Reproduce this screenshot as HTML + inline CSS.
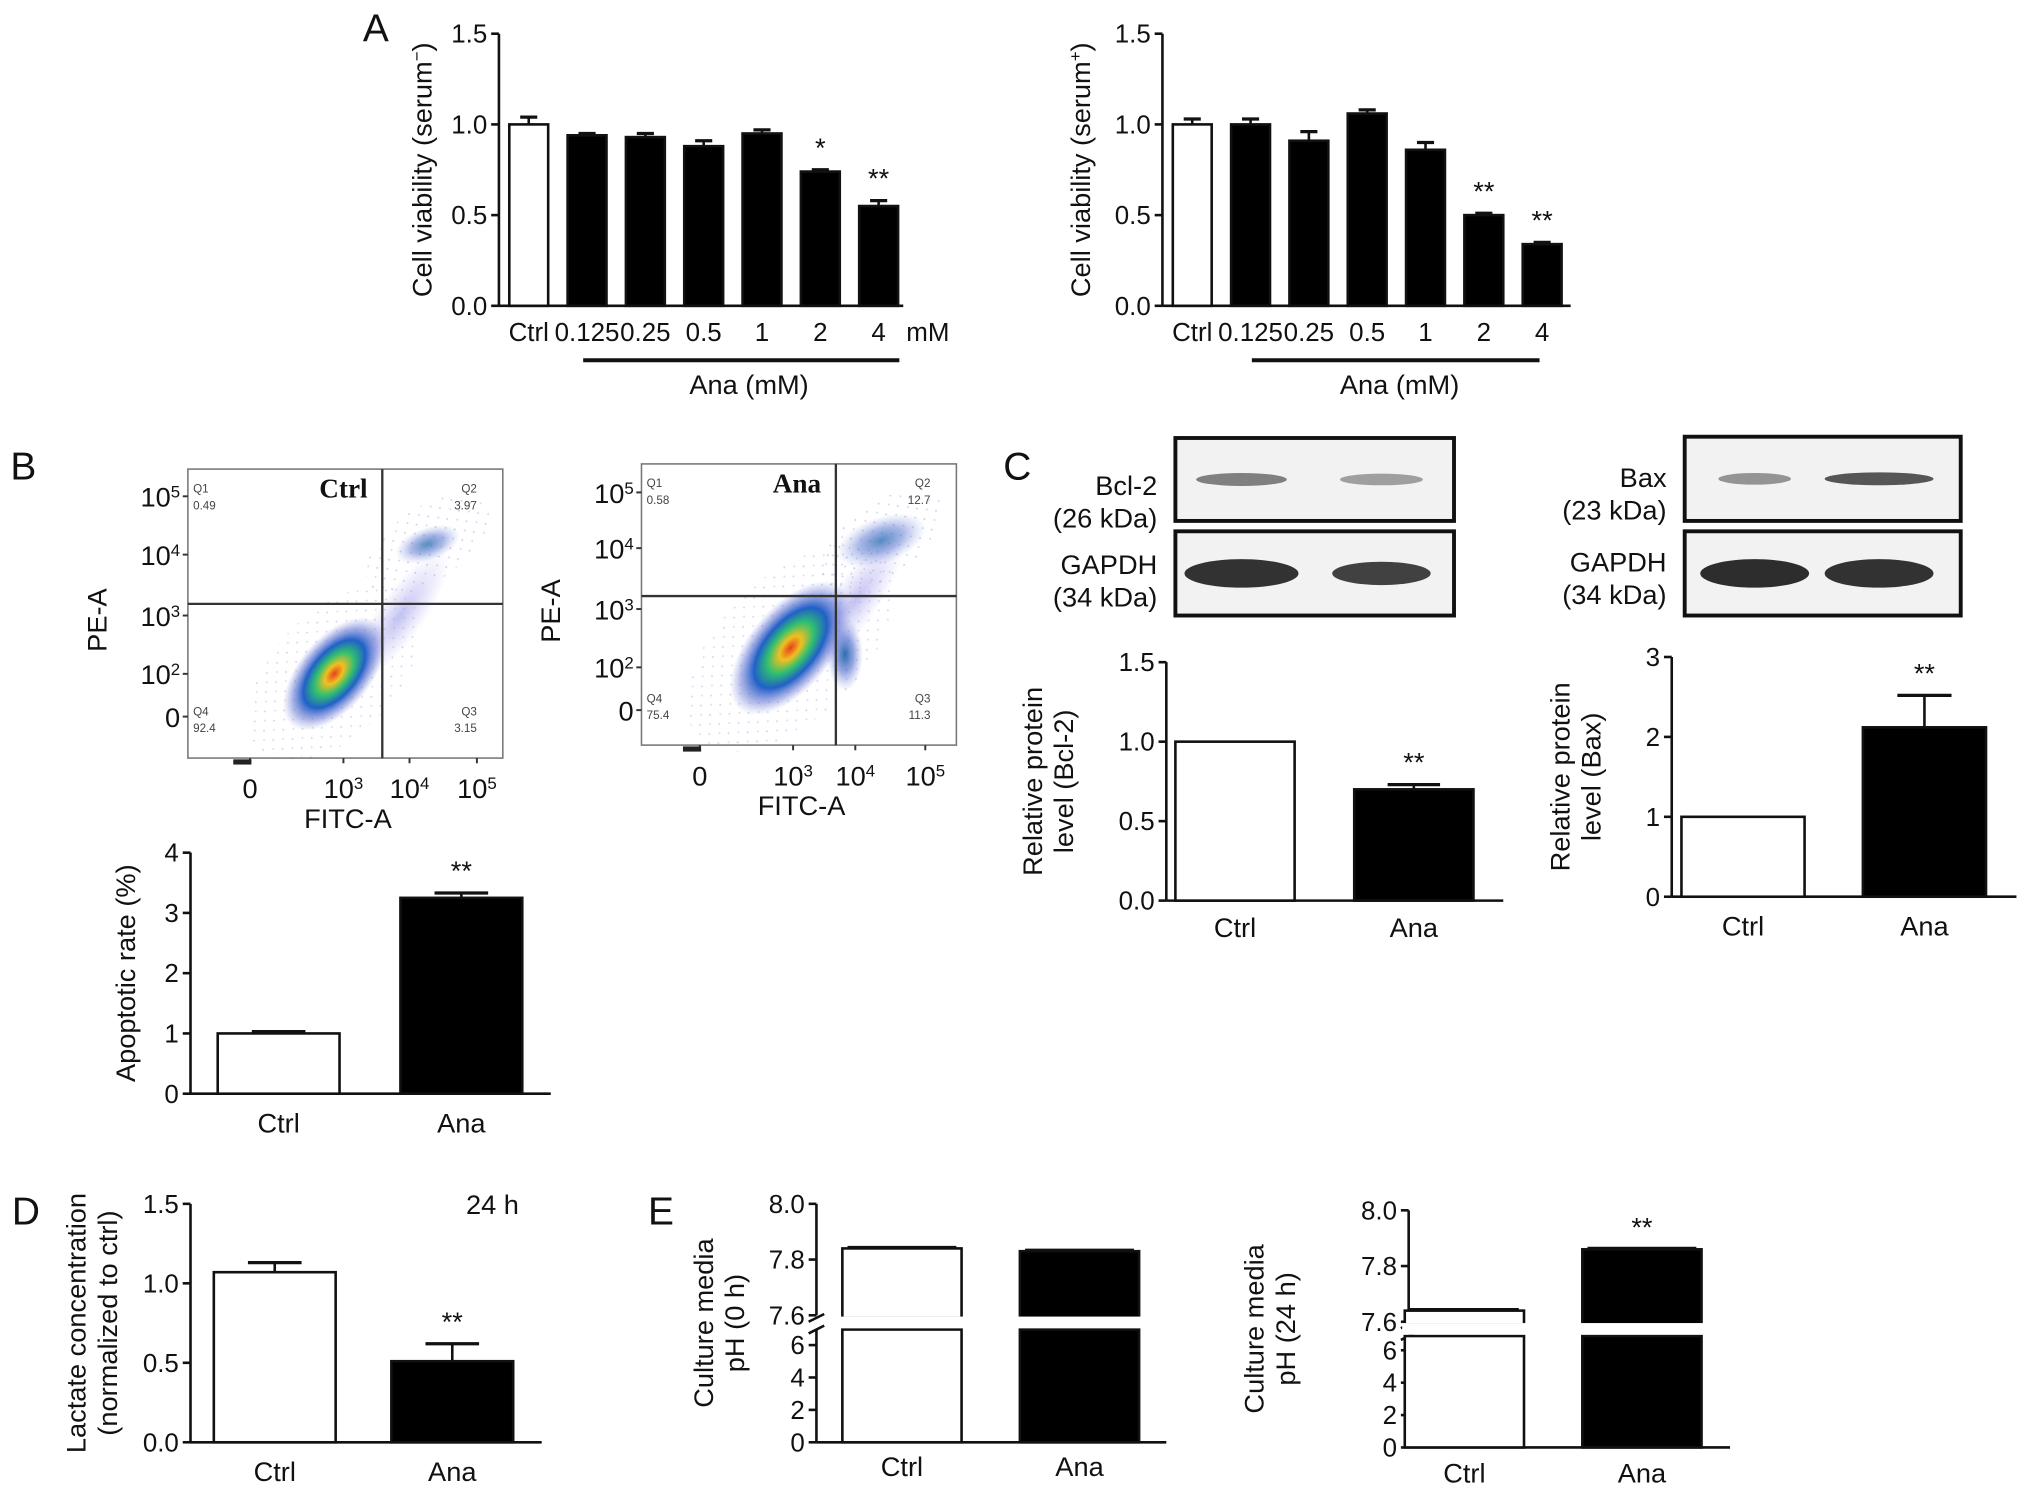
<!DOCTYPE html>
<html><head><meta charset="utf-8"><style>
html,body{margin:0;padding:0;background:#fff;}
svg{display:block;font-family:"Liberation Sans",Arial,sans-serif;}
</style></head><body>
<svg id="fig" width="2032" height="1498" viewBox="0 0 1568 1156" preserveAspectRatio="none" xmlns="http://www.w3.org/2000/svg">
<defs>
<radialGradient id="blobA" cx="50%" cy="50%" r="50%">
<stop offset="0" stop-color="#e8401c"/><stop offset="0.18" stop-color="#f0c020"/><stop offset="0.38" stop-color="#30c070"/><stop offset="0.6" stop-color="#2060c8"/><stop offset="0.82" stop-color="#6070d0" stop-opacity="0.5"/><stop offset="1" stop-color="#8090e0" stop-opacity="0"/>
</radialGradient>
<radialGradient id="blobB" cx="50%" cy="50%" r="50%">
<stop offset="0" stop-color="#2a70b0"/><stop offset="0.5" stop-color="#4060c8" stop-opacity="0.55"/><stop offset="1" stop-color="#8090e0" stop-opacity="0"/>
</radialGradient>
<radialGradient id="blobC" cx="50%" cy="50%" r="50%">
<stop offset="0" stop-color="#9a98e8" stop-opacity="0.6"/><stop offset="1" stop-color="#b0a8f0" stop-opacity="0"/>
</radialGradient>
<pattern id="dots" width="11" height="10" patternUnits="userSpaceOnUse">
<rect x="1" y="2" width="1.3" height="1.3" fill="#6a70c8"/><rect x="7" y="7" width="1.3" height="1.3" fill="#8088d8"/>
</pattern>
</defs>
</svg>
<script>
// ---------- data ----------
const catA = ['Ctrl','0.125','0.25','0.5','1','2','4'];
const viabMinus = [1.0,0.94,0.93,0.88,0.95,0.74,0.55];
const viabMinusErr = [0.04,0.01,0.02,0.03,0.02,0.01,0.03];
const starsMinus = ['','','','','','*','**'];
const viabPlus = [1.0,1.0,0.91,1.06,0.86,0.5,0.34];
const viabPlusErr = [0.03,0.03,0.05,0.02,0.04,0.01,0.01];
const starsPlus = ['','','','','','**','**'];
const ticksA = [0,0.5,1.0,1.5];
const ticksALabels = ['0.0','0.5','1.0','1.5'];
const cat2 = ['Ctrl','Ana'];
const apopVals = [1.0,3.25];
const apopErr = [0.03,0.08];
const apopTicks = [0,1,2,3,4];
const bclVals = [1.0,0.70];
const bclErr = [0,0.03];
const baxVals = [1.0,2.12];
const baxErr = [0,0.4];
const baxTicks = [0,1,2,3];
const lacVals = [1.07,0.51];
const lacErr = [0.06,0.11];
const ph0Vals = [7.84,7.83];
const ph24Vals = [7.64,7.86];
const phUpTicks = [7.6,7.8,8.0];
const phUpLabels = ['7.6','7.8','8.0'];
const phLowTicks = [0,2,4,6];

// ---------- helpers ----------
const svg = document.getElementById('fig');
const NS = 'http://www.w3.org/2000/svg';
function el(tag, attrs, parent){
  const e = document.createElementNS(NS, tag);
  for (const k in attrs) e.setAttribute(k, attrs[k]);
  (parent||svg).appendChild(e); return e;
}
function txt(x,y,s,size,anchor,parent,extra){
  const t = el('text', Object.assign({x:x,y:y,'font-size':size,'text-anchor':anchor||'middle',fill:'#111'}, extra||{}), parent);
  t.textContent = s; return t;
}
function group(name){
  const g = el('g',{});
  
  
  return g;
}
function yLabel(g,x,yc,lines,size){
  lines.forEach((ln,i)=>{
    const t = txt(x+i*size*1.15, yc, '', size, 'middle', g, {transform:`rotate(-90 ${x+i*size*1.15} ${yc})`});
    t.innerHTML = ln;
  });
}

function barChart(o){
  const g = group(o.name);
  const yS = v => o.yBot - (v - o.vmin)/(o.vmax - o.vmin)*(o.yBot - o.yTop);
  const xC = i => o.x0 + i*o.step;
  const ax = el('line',{x1:o.axX,y1:o.yTop,x2:o.axX,y2:o.yBot,stroke:'#111','stroke-width':2},g);
  
  
  const xa = el('line',{x1:o.axX,y1:o.yBot,x2:o.xEnd,y2:o.yBot,stroke:'#111','stroke-width':2},g);
  
  
  o.ticks.forEach((t,i)=>{
    el('line',{x1:o.axX-6,y1:yS(t),x2:o.axX,y2:yS(t),stroke:'#111','stroke-width':2},g);
    const tl = txt(o.axX-9, yS(t)+7, o.tickLabels ? o.tickLabels[i] : String(t), 20, 'end', g);
    
    
  });
  o.values.forEach((v,i)=>{
    const cx = xC(i);
    if (o.errors && o.errors[i] > 0){
      const et = yS(v + o.errors[i]);
      el('line',{x1:cx,y1:et,x2:cx,y2:yS(v),stroke:'#111','stroke-width':2},g);
      el('line',{x1:cx-o.w*0.22,y1:et,x2:cx+o.w*0.22,y2:et,stroke:'#111','stroke-width':2.5},g);
    }
    const r = el('rect',{x:cx-o.w/2,y:yS(v),width:o.w,height:o.yBot-yS(v),fill:o.fills[i],stroke:'#111','stroke-width':2},g);
    
    
    const lb = txt(cx, o.labY, o.cats[i], o.labSize||21, 'middle', g);
    
    
    if (o.stars && o.stars[i]){
      const st = txt(cx, yS(v + (o.errors?o.errors[i]:0)) - 10, o.stars[i], 21, 'middle', g);
      
      
    }
  });
  if (o.ylabel) yLabel(g, o.ylx, (o.yTop+o.yBot)/2, o.ylabel, 21);
  return g;
}

function brokenChart(o){
  const g = group(o.name);
  const yU = v => o.uBot - (v-7.6)/(0.4)*(o.uBot-o.uTop);
  const yL = v => o.lBot - v/6*(o.lBot-o.l6);
  el('line',{x1:o.axX,y1:o.uTop,x2:o.axX,y2:o.uBot,stroke:'#111','stroke-width':2},g);
  el('line',{x1:o.axX,y1:o.lTop,x2:o.axX,y2:o.lBot,stroke:'#111','stroke-width':2},g);
  el('line',{x1:o.axX-6,y1:o.uBot+5,x2:o.axX+6,y2:o.uBot-1,stroke:'#111','stroke-width':2},g);
  el('line',{x1:o.axX-6,y1:o.lTop+3,x2:o.axX+6,y2:o.lTop-3,stroke:'#111','stroke-width':2},g);
  el('line',{x1:o.axX,y1:o.lBot,x2:o.xEnd,y2:o.lBot,stroke:'#111','stroke-width':2},g);
  phUpTicks.forEach((t,i)=>{
    el('line',{x1:o.axX-6,y1:yU(t),x2:o.axX,y2:yU(t),stroke:'#111','stroke-width':2},g);
    txt(o.axX-9,yU(t)+7,phUpLabels[i],20,'end',g);
  });
  phLowTicks.forEach(t=>{
    el('line',{x1:o.axX-6,y1:yL(t),x2:o.axX,y2:yL(t),stroke:'#111','stroke-width':2},g);
    txt(o.axX-9,yL(t)+7,String(t),20,'end',g);
  });
  o.values.forEach((v,i)=>{
    const cx = o.x0 + i*o.step;
    const fill = i===0?'#fff':'#000';
    const r1 = el('rect',{x:cx-o.w/2,y:yU(v),width:o.w,height:o.uBot-yU(v)+2,fill:fill,stroke:'#111','stroke-width':2},g);
    
    
    const r2 = el('rect',{x:cx-o.w/2,y:o.lTop,width:o.w,height:o.lBot-o.lTop,fill:fill,stroke:'#111','stroke-width':2},g);
    
    
    el('rect',{x:cx-o.w/2-2,y:o.uBot+1,width:o.w+4,height:o.lTop-o.uBot-2,fill:'#fff'},g);
    el('line',{x1:cx-o.w/2+4,y1:yU(v)-1,x2:cx+o.w/2-4,y2:yU(v)-1,stroke:'#111','stroke-width':2},g);
    txt(cx,o.labY,cat2[i],21,'middle',g);
    if (o.stars && o.stars[i]) txt(cx, yU(v)-10, o.stars[i], 21,'middle',g);
  });
  yLabel(g,o.ylx,(o.uTop+o.lBot)/2,o.ylabel,21);
}

// ---------- panel letters ----------
[['A',290,32],['B',18,370],['C',785,370],['D',20,945],['E',510,945]].forEach(p=>{
  const t = txt(p[1],p[2],p[0],30,'middle');
  
  
});

// ---------- Panel A ----------
barChart({name:'chart-viability-serum-minus',cats:catA,values:viabMinus,errors:viabMinusErr,stars:starsMinus,
  fills:['#fff','#000','#000','#000','#000','#000','#000'],axX:385,xEnd:697,yTop:26,yBot:236,vmin:0,vmax:1.5,
  ticks:ticksA,tickLabels:ticksALabels,x0:408,step:45,w:30,labY:263,labSize:20,ylx:333,ylabel:['Cell viability (serum<tspan baseline-shift="super" font-size="13">−</tspan>)']});
(function(){const g=group('x-group-ana-left');
  txt(716,263,'mM',20,'middle',g);
  el('line',{x1:450,y1:278,x2:694,y2:278,stroke:'#111','stroke-width':3},g);
  txt(578,304,'Ana (mM)',21,'middle',g);})();
barChart({name:'chart-viability-serum-plus',cats:catA,values:viabPlus,errors:viabPlusErr,stars:starsPlus,
  fills:['#fff','#000','#000','#000','#000','#000','#000'],axX:897,xEnd:1212,yTop:26,yBot:236,vmin:0,vmax:1.5,
  ticks:ticksA,tickLabels:ticksALabels,x0:920,step:45,w:30,labY:263,labSize:20,ylx:841,ylabel:['Cell viability (serum<tspan baseline-shift="super" font-size="13">+</tspan>)']});
(function(){const g=group('x-group-ana-right');
  el('line',{x1:966,y1:278,x2:1188,y2:278,stroke:'#111','stroke-width':3},g);
  txt(1080,304,'Ana (mM)',21,'middle',g);})();

// ---------- Panel B flow plots ----------
function flow(o){
  const g = group(o.name);
  el('rect',{x:o.x,y:o.y,width:o.w,height:o.h,fill:'#fff',stroke:'#777','stroke-width':1.2},g);
  el('ellipse',{cx:o.cx,cy:o.cy,rx:o.rx*1.6,ry:o.ry*1.7,fill:'url(#dots)',opacity:0.3,transform:`rotate(-45 ${o.cx} ${o.cy})`},g);
  el('ellipse',{cx:o.qx,cy:o.qy,rx:55,ry:28,fill:'url(#dots)',opacity:0.35,transform:`rotate(-35 ${o.qx} ${o.qy})`},g);
  el('ellipse',{cx:(o.cx+o.qx)/2+15,cy:(o.cy+o.qy)/2+5,rx:60,ry:18,fill:'url(#blobC)',transform:`rotate(-55 ${(o.cx+o.qx)/2+15} ${(o.cy+o.qy)/2+5})`},g);
  el('ellipse',{cx:o.qx,cy:o.qy,rx:o.qr,ry:o.qr*0.5,fill:'url(#blobB)',opacity:0.8,transform:`rotate(-20 ${o.qx} ${o.qy})`},g);
  if (o.side) el('ellipse',{cx:o.side[0],cy:o.side[1],rx:14,ry:28,fill:'url(#blobB)'},g);
  el('ellipse',{cx:o.cx,cy:o.cy,rx:o.rx,ry:o.ry,fill:'url(#blobA)',transform:`rotate(-50 ${o.cx} ${o.cy})`},g);
  el('line',{x1:o.vx,y1:o.y,x2:o.vx,y2:o.y+o.h,stroke:'#333','stroke-width':1.8},g);
  el('line',{x1:o.x,y1:o.hy,x2:o.x+o.w,y2:o.hy,stroke:'#333','stroke-width':1.8},g);
  const q=o.q;
  txt(o.x+4,o.y+18,'Q1',9,'start',g,{fill:'#444'});txt(o.x+4,o.y+31,q[0],9,'start',g,{fill:'#444'});
  txt(o.x+o.w-20,o.y+18,'Q2',9,'end',g,{fill:'#444'});txt(o.x+o.w-20,o.y+31,q[1],9,'end',g,{fill:'#444'});
  txt(o.x+4,o.y+o.h-33,'Q4',9,'start',g,{fill:'#444'});txt(o.x+4,o.y+o.h-20,q[3],9,'start',g,{fill:'#444'});
  txt(o.x+o.w-20,o.y+o.h-33,'Q3',9,'end',g,{fill:'#444'});txt(o.x+o.w-20,o.y+o.h-20,q[2],9,'end',g,{fill:'#444'});
  txt(o.titleX,o.y+22,o.title,21,'middle',g,{'font-family':'Liberation Serif, serif','font-weight':'bold'});
  const yl=['0','10<tspan baseline-shift="super" font-size="13">2</tspan>','10<tspan baseline-shift="super" font-size="13">3</tspan>','10<tspan baseline-shift="super" font-size="13">4</tspan>','10<tspan baseline-shift="super" font-size="13">5</tspan>'];
  o.yt.forEach((yy,i)=>{const t=txt(o.x-6,yy+8,'',21,'end',g);t.innerHTML=yl[i];
    el('line',{x1:o.x-4,y1:yy,x2:o.x,y2:yy,stroke:'#333','stroke-width':1.5},g);});
  o.xt.forEach((xx,i)=>{const t=txt(xx,o.y+o.h+31,'',21,'middle',g);t.innerHTML=yl[i===0?0:i+1];
    el('line',{x1:xx,y1:o.y+o.h,x2:xx,y2:o.y+o.h+4,stroke:'#333','stroke-width':1.5},g);});
  el('rect',{x:o.xt[0]-13,y:o.y+o.h+1,width:14,height:4,fill:'#222'},g);
  txt((o.x+o.x+o.w)/2+2,o.y+o.h+54,'FITC-A',21,'middle',g);
  txt(o.plx,(o.y+o.h/2)+5,'PE-A',21,'middle',g,{transform:`rotate(-90 ${o.plx} ${o.y+o.h/2+5})`});
}
flow({name:'flow-plot-ctrl',x:145,y:362,w:243,h:223,vx:295,hy:466,cx:258,cy:520,rx:52,ry:28,qx:330,qy:420,qr:26,
  q:['0.49','3.97','3.15','92.4'],title:'Ctrl',titleX:265,yt:[553,520,475,428,383],xt:[193,265,316,368],plx:82});
flow({name:'flow-plot-ana',x:495,y:358,w:243,h:217,vx:645,hy:460,cx:610,cy:500,rx:62,ry:32,qx:680,qy:417,qr:36,side:[652,505],
  q:['0.58','12.7','11.3','75.4'],title:'Ana',titleX:615,yt:[548,515,470,423,380],xt:[540,612,660,714],plx:432});

barChart({name:'chart-apoptotic-rate',cats:cat2,values:apopVals,errors:apopErr,stars:['','**'],fills:['#fff','#000'],
  axX:147,xEnd:425,yTop:658,yBot:844,vmin:0,vmax:4,ticks:apopTicks,x0:215,step:141,w:94,labY:874,ylx:104,ylabel:['Apoptotic rate (%)']});

// ---------- Panel C blots ----------
function blot(name,x,y,w,h,bands){
  const g=group(name);
  el('rect',{x:x,y:y,width:w,height:h,fill:'#f2f2f2',stroke:'#111','stroke-width':3},g);
  bands.forEach(b=>el('ellipse',{cx:b[0],cy:y+h/2+(b[4]||0),rx:b[1],ry:b[2],fill:'#222',opacity:b[3]},g));
}
blot('blot-bcl2',907,338,215,64,[[958,35,5,0.55],[1066,32,4.5,0.4]]);
blot('blot-gapdh-left',907,410,215,65,[[958,44,11,0.92],[1066,38,9,0.85]]);
blot('blot-bax',1300,337,213,65,[[1354,28,4.5,0.45],[1450,42,5,0.75]]);
blot('blot-gapdh-right',1300,410,213,65,[[1354,42,11,0.95],[1450,42,11,0.92]]);
(function(){const g=group('blot-labels');
  [['Bcl-2',893,382],['(26 kDa)',893,407],['GAPDH',893,443],['(34 kDa)',893,468],
   ['Bax',1286,376],['(23 kDa)',1286,401],['GAPDH',1286,441],['(34 kDa)',1286,466]].forEach(l=>txt(l[1],l[2],l[0],21,'end',g));})();

barChart({name:'chart-bcl2-level',cats:cat2,values:bclVals,errors:bclErr,stars:['','**'],fills:['#fff','#000'],
  axX:900,xEnd:1160,yTop:511,yBot:695,vmin:0,vmax:1.5,ticks:ticksA,tickLabels:ticksALabels,x0:953,step:138,w:92,labY:723,ylx:804,ylabel:['Relative protein','level (Bcl-2)']});
barChart({name:'chart-bax-level',cats:cat2,values:baxVals,errors:baxErr,stars:['','**'],fills:['#fff','#000'],
  axX:1290,xEnd:1556,yTop:507,yBot:692,vmin:0,vmax:3,ticks:baxTicks,x0:1345,step:140,w:95,labY:722,ylx:1211,ylabel:['Relative protein','level (Bax)']});

// ---------- Panel D ----------
barChart({name:'chart-lactate',cats:cat2,values:lacVals,errors:lacErr,stars:['','**'],fills:['#fff','#000'],
  axX:147,xEnd:418,yTop:929,yBot:1113,vmin:0,vmax:1.5,ticks:ticksA,tickLabels:ticksALabels,x0:212,step:137,w:94,labY:1143,ylx:66,ylabel:['Lactate concentration','(normalized to ctrl)']});
(function(){const g=group('lactate-time-label');txt(380,937,'24 h',21,'middle',g);})();

// ---------- Panel E ----------
brokenChart({name:'chart-ph-0h',values:ph0Vals,axX:630,xEnd:900,uTop:929,uBot:1015,lTop:1026,l6:1038,lBot:1113,
  x0:696,step:137,w:92,labY:1139,ylx:550,ylabel:['Culture media','pH (0 h)']});
brokenChart({name:'chart-ph-24h',values:ph24Vals,stars:['','**'],axX:1087,xEnd:1335,uTop:934,uBot:1020,lTop:1031,l6:1042,lBot:1117,
  x0:1130,step:137,w:92,labY:1144,ylx:975,ylabel:['Culture media','pH (24 h)']});
</script>
</body></html>
